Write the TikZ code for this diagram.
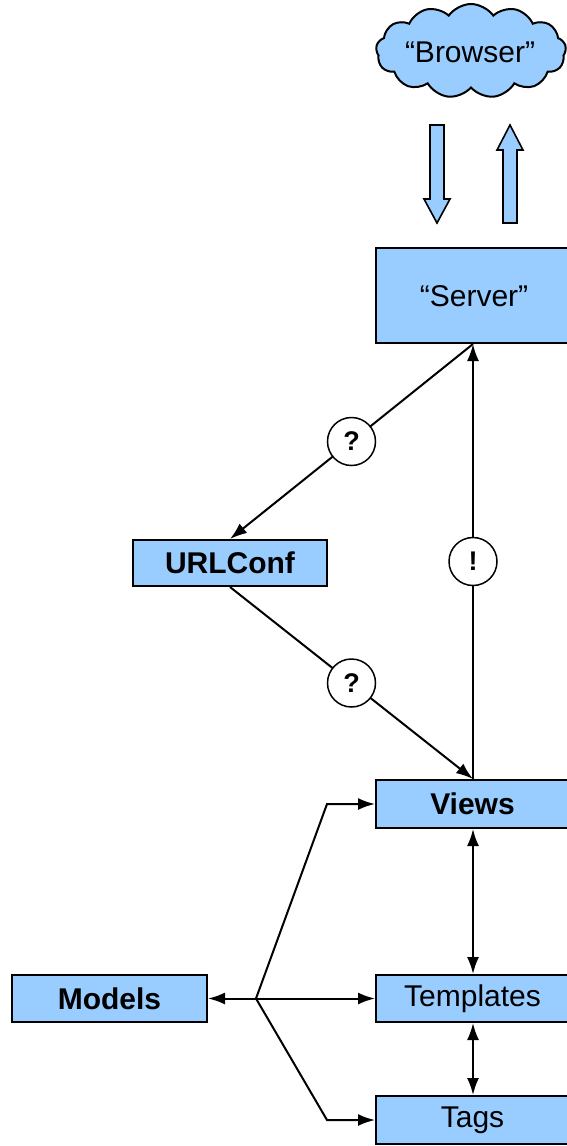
\documentclass[tikz,border=0pt]{standalone}
\usepackage{fontspec}
\setmainfont{Liberation Sans}
\usetikzlibrary{shapes.symbols,arrows.meta}
\definecolor{boxblue}{HTML}{99CCFF}
\begin{document}
\begin{tikzpicture}[x=1pt,y=-1pt,
  every node/.style={font=\fontsize{30}{36}\selectfont},
  box/.style={draw=black,line width=2pt,fill=boxblue,inner sep=0pt,minimum width=194pt},
  bbox/.style={box,font=\fontsize{30}{36}\selectfont\bfseries},
  qcircle/.style={draw=black,line width=1.5pt,fill=white,circle,minimum size=48pt,inner sep=0pt,font=\fontsize{27}{32}\selectfont\bfseries},
  conn/.style={line width=2pt,-{Latex[length=17pt,width=12pt]}},
  dconn/.style={line width=2pt,{Latex[length=17pt,width=12pt]}-{Latex[length=17pt,width=12pt]}},
  fat/.style={draw=black,line width=1.6pt,fill=boxblue,line join=miter}]
\useasboundingbox (0,0) rectangle (566,1146);

% cloud
\node[cloud,draw=black,line width=2pt,fill=boxblue,cloud puffs=13,cloud puff arc=110,aspect=2.0,minimum width=190pt,minimum height=94pt,inner sep=0pt] (browser) at (471,51) {};
\node at (470,52) (browsertext) {“Browser”};

% fat arrows
\draw[fat] (430,125) -- (444,125) -- (444,199) -- (450,199) -- (437,223) -- (424,199) -- (430,199) -- cycle;
\draw[fat] (503,223) -- (517,223) -- (517,150) -- (523,150) -- (510,125) -- (497,150) -- (503,150) -- cycle;

% boxes
\node[box,minimum height=95pt] (server) at (473,295.5) {};
\node at (474,296) {“Server”};
\node[bbox,minimum height=46pt] (urlconf) at (230,563) {URLConf};
\node[bbox,minimum height=48pt] (views) at (473,804) {};
\node[font=\fontsize{30}{36}\selectfont\bfseries] at (472.5,804) {Views};
\node[box,minimum height=47pt] (templates) at (473,998.5) {};
\node at (472.5,998.5) {Templates};
\node[box,minimum height=48pt] (tags) at (473,1120) {};
\node at (472.5,1120) {Tags};
\node[bbox,minimum height=47pt,minimum width=195pt] (models) at (109.5,998.5) {Models};

% connectors
\draw[conn] (server.south) -- node[qcircle,pos=0.5] (q1) {?} (urlconf.north);
\draw[conn] (urlconf.south) -- node[qcircle,pos=0.5] (q2) {?} (views.north);
\draw[conn] (views.north) -- node[qcircle,pos=0.5] (ex) {!} (server.south);
\draw[dconn] (views.south) -- (templates.north);
\draw[dconn] (templates.south) -- (tags.north);

\coordinate (branch) at (256,998.5);
\coordinate (c1) at (327,804);
\coordinate (c2) at (327,1120);
\draw[conn] (branch) -- (models.east);
\draw[conn] (branch) -- (templates.west);
\draw[conn] (branch) -- (c1) -- (views.west);
\draw[conn] (branch) -- (c2) -- (tags.west);
\end{tikzpicture}
\end{document}
